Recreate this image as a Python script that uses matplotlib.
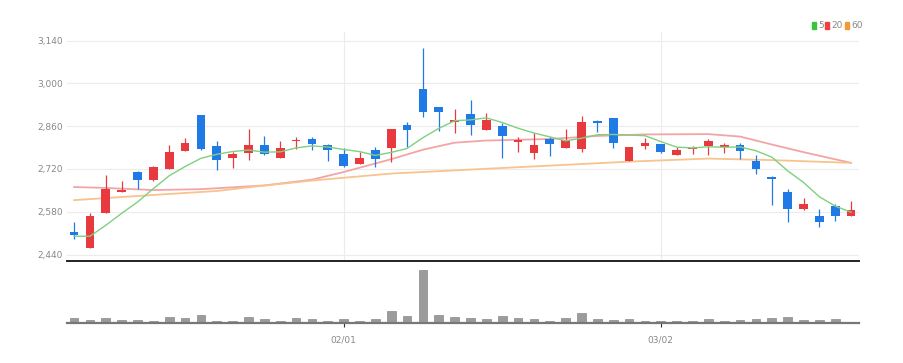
import matplotlib
matplotlib.use('Agg')
import matplotlib.pyplot as plt
import numpy as np
import pandas as pd
from matplotlib.patches import Rectangle

plt.rcParams['font.family'] = ['Liberation Sans Narrow', 'DejaVu Sans']

# daily candles (50 sessions)
opens = [2515, 2460, 2575, 2645, 2710, 2685, 2720, 2780, 2895, 2795,
         2755, 2773, 2800, 2755, 2810, 2817, 2800, 2769, 2736, 2782,
         2787, 2863, 2980, 2922, 2875, 2899, 2847, 2860, 2808, 2773,
         2817, 2787, 2785, 2878, 2887, 2747, 2795, 2801, 2766, 2784,
         2795, 2793, 2797, 2747, 2695, 2645, 2590, 2567, 2600, 2567]
highs = [2545, 2575, 2700, 2680, 2712, 2730, 2800, 2820, 2898, 2810,
         2775, 2850, 2828, 2812, 2823, 2825, 2801, 2789, 2774, 2792,
         2851, 2873, 3115, 2922, 2915, 2945, 2902, 2871, 2825, 2838,
         2825, 2850, 2893, 2880, 2888, 2793, 2820, 2802, 2793, 2795,
         2818, 2806, 2806, 2765, 2696, 2654, 2624, 2589, 2607, 2616]
lows = [2490, 2460, 2575, 2645, 2655, 2680, 2720, 2780, 2783, 2718,
        2722, 2750, 2767, 2755, 2784, 2782, 2746, 2727, 2736, 2727,
        2744, 2791, 2889, 2844, 2838, 2832, 2847, 2755, 2776, 2751,
        2762, 2787, 2776, 2842, 2789, 2747, 2784, 2771, 2766, 2768,
        2765, 2771, 2751, 2702, 2602, 2545, 2585, 2531, 2550, 2567]
closes = [2505, 2565, 2655, 2650, 2685, 2725, 2775, 2805, 2785, 2750,
          2770, 2800, 2770, 2790, 2815, 2802, 2782, 2730, 2755, 2753,
          2851, 2847, 2906, 2907, 2878, 2865, 2880, 2829, 2814, 2800,
          2802, 2815, 2872, 2871, 2804, 2793, 2804, 2776, 2781, 2790,
          2812, 2797, 2780, 2719, 2686, 2588, 2607, 2545, 2567, 2586]
volumes = [52, 32, 52, 35, 35, 22, 58, 52, 85, 25,
           18, 58, 42, 25, 52, 42, 25, 38, 18, 38,
           118, 68, 535, 85, 58, 52, 42, 75, 52, 38,
           22, 52, 102, 42, 35, 38, 18, 25, 25, 25,
           38, 25, 35, 38, 52, 58, 35, 35, 38, 15]
# closes of the four sessions before the window, for the 5-day average
prior_closes = [2565, 2475, 2455, 2500]

# 20 / 60 day averages
ma20_idx = [0, 2, 5, 8, 12, 15, 17, 20, 22, 24, 26, 30, 33, 36, 40, 42, 44, 46, 49]
ma20 = [2661, 2658, 2651, 2654, 2666, 2685, 2710, 2752, 2783, 2806,
        2813, 2818, 2828, 2833, 2834, 2826, 2800, 2775, 2740]
ma60_idx = [0, 5, 9, 12, 15, 20, 25, 30, 35, 40, 44, 49]
ma60 = [2618, 2635, 2648, 2666, 2682, 2705, 2718, 2731, 2744, 2754, 2749, 2740]

tick_pos = [17, 37]
tick_labels = ['02/01', '03/02']
price_ticks = [2440, 2580, 2720, 2860, 3000, 3140]

W, H = 904, 363
fig = plt.figure(figsize=(W / 100, H / 100), dpi=100)


def px(l, t, r, b):
    return [l / W, 1 - b / H, (r - l) / W, (b - t) / H]


ax = fig.add_axes(px(67, 32, 859, 261))
axv = fig.add_axes(px(67, 266, 859, 323), sharex=ax)

o = np.array(opens)
c = np.array(closes)
x = np.arange(len(c))
up = c >= o
cols = np.where(up, '#e8393e', '#1f7ae6')

# candles
ax.vlines(x, lows, highs, colors=cols, lw=0.9, zorder=3)
body_h = np.maximum(np.abs(c - o), 5)
ax.bar(x, body_h, bottom=np.minimum(o, c), width=0.55, color=cols, zorder=3)

# moving averages
ma5 = pd.Series(prior_closes + closes).rolling(5).mean().iloc[4:].values
ax.plot(x, ma5, color='#7fd07f', lw=1.0, zorder=4)
ax.plot(ma20_idx, ma20, color='#f3a4a6', lw=1.3, zorder=2)
ax.plot(ma60_idx, ma60, color='#f7c38e', lw=1.3, zorder=2)

ax.set_xlim(-0.45, 49.5)
ax.set_ylim(2419, 3168)
ax.set_yticks(price_ticks)
ax.set_yticklabels([f'{v:,}' for v in price_ticks])
ax.tick_params(axis='y', length=0, labelsize=6.5, colors='#888888', pad=3)
ax.tick_params(axis='x', bottom=False, labelbottom=False)
ax.grid(True, color='#ececec', lw=0.8, zorder=0)
for s in ['top', 'right', 'left']:
    ax.spines[s].set_visible(False)
ax.spines['bottom'].set_color('#222222')
ax.spines['bottom'].set_linewidth(1.4)

# volume
axv.bar(x, volumes, width=0.55, color='#9b9b9b', edgecolor='#8a8a8a', lw=0.5)
axv.set_ylim(0, 570)
axv.set_yticks([])
axv.set_xticks(tick_pos)
axv.set_xticklabels(tick_labels)
axv.tick_params(axis='x', length=3, width=0.8, color='#333333',
                labelcolor='#888888', labelsize=6.5, pad=6)
for s in ['top', 'right', 'left']:
    axv.spines[s].set_visible(False)
axv.spines['bottom'].set_color('#777777')
axv.spines['bottom'].set_linewidth(1.6)

# legend
legend = [('5', '#3cc23c', 812), ('20', '#ef3f3f', 825), ('60', '#f29a38', 845)]
for lab, col, lx in legend:
    fig.patches.append(Rectangle((lx / W, 1 - 29 / H), 4 / W, 7 / H,
                                 color=col, transform=fig.transFigure))
    fig.text((lx + 6) / W, 1 - 25.5 / H, lab, color='#888888', fontsize=6.5,
             va='center', ha='left')

fig.savefig('out.png', dpi=100)
